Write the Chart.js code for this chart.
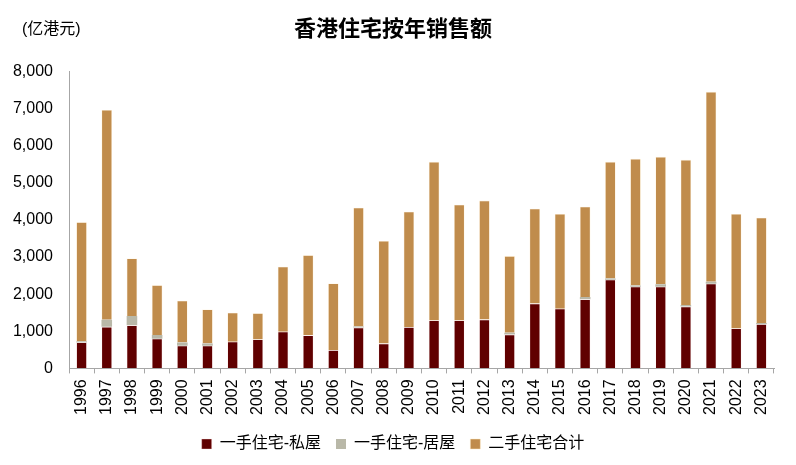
<!DOCTYPE html>
<html>
<head>
<meta charset="utf-8">
<script src="https://cdn.jsdelivr.net/npm/chart.js@4.4.1/dist/chart.umd.min.js"></script>
<style>
  html, body { margin: 0; padding: 0; background: #fff; }
  #wrap { position: relative; width: 796px; height: 465px; }
</style>
</head>
<body>
<div id="wrap"><canvas id="salesChart" width="796" height="465"></canvas></div>
<script>
// 香港住宅按年销售额 (亿港元)
const years = ['1996','1997','1998','1999','2000','2001','2002','2003','2004','2005',
  '2006','2007','2008','2009','2010','2011','2012','2013','2014','2015',
  '2016','2017','2018','2019','2020','2021','2022','2023'];

// 一手住宅-私屋
const privateNew = [700, 1120, 1160, 800, 610, 610, 720, 780, 990, 890,
  490, 1100, 670, 1110, 1290, 1290, 1315, 910, 1745, 1610,
  1860, 2390, 2200, 2200, 1665, 2280, 1075, 1190];

// 一手住宅-居屋
const hosNew = [30, 190, 250, 100, 90, 60, 0, 0, 0, 0,
  0, 30, 0, 0, 0, 0, 0, 50, 0, 0,
  60, 30, 35, 70, 45, 55, 0, 35];

// 二手住宅合计
const secondHand = [3210, 5650, 1550, 1340, 1125, 920, 780, 705, 1750, 2160,
  1800, 3200, 2765, 3110, 4275, 3120, 3205, 2065, 2555, 2550,
  2435, 3145, 3410, 3430, 3907, 5115, 3085, 2835];

const yTicks = [0, 1000, 2000, 3000, 4000, 5000, 6000, 7000, 8000];

const FONT = '"Liberation Sans", Arial, "Noto Sans CJK SC", sans-serif';

// 左上角单位
const unitLabel = {
  id: 'unitLabel',
  afterDraw(chart) {
    const ctx = chart.ctx;
    ctx.save();
    ctx.font = '16px ' + FONT;
    ctx.fillStyle = '#000';
    ctx.textBaseline = 'middle';
    ctx.fillText('(亿港元)', 22, 30);
    ctx.restore();
  }
};

new Chart(document.getElementById('salesChart'), {
  type: 'bar',
  data: {
    labels: years,
    datasets: [
      { label: '一手住宅-私屋', data: privateNew, backgroundColor: '#600000', borderColor: 'rgba(255,225,225,0.6)', borderWidth: 0.6 },
      { label: '一手住宅-居屋', data: hosNew, backgroundColor: '#B9B8A8', borderWidth: 0 },
      { label: '二手住宅合计', data: secondHand, backgroundColor: '#C08C4C', borderColor: 'rgba(255,235,200,0.8)', borderWidth: 0.6 }
    ]
  },
  options: {
    responsive: false,
    animation: false,
    devicePixelRatio: 1,
    layout: { padding: { left: 12, right: 22, top: 0, bottom: 3 } },
    datasets: { bar: { barPercentage: 0.42, categoryPercentage: 1 } },
    plugins: {
      title: {
        display: true,
        text: '香港住宅按年销售额',
        color: '#000',
        font: { family: FONT, size: 22, weight: 'bold' },
        padding: { top: 17, bottom: 28 }
      },
      legend: {
        position: 'bottom',
        labels: {
          color: '#000',
          font: { family: FONT, size: 16 },
          boxWidth: 10,
          boxHeight: 10,
          padding: 15
        }
      },
      tooltip: { enabled: false }
    },
    scales: {
      x: {
        stacked: true,
        grid: { display: true, drawOnChartArea: false, drawTicks: true, tickLength: 5, color: '#A6A6A6' },
        border: { display: true, color: '#A6A6A6' },
        ticks: { color: '#000', font: { family: FONT, size: 16 }, minRotation: 90, maxRotation: 90, padding: 6 }
      },
      y: {
        stacked: true,
        min: 0,
        max: 8000,
        afterBuildTicks(axis) { axis.ticks = yTicks.map(v => ({ value: v })); },
        afterFit(axis) { axis.width = 57; },
        grid: { display: true, drawOnChartArea: false, drawTicks: false },
        border: { display: true, color: '#A6A6A6' },
        ticks: {
          color: '#000',
          padding: 16,
          font: { family: FONT, size: 16 },
          callback: v => v.toLocaleString('en-US')
        }
      }
    }
  },
  plugins: [unitLabel]
});
</script>
</body>
</html>
